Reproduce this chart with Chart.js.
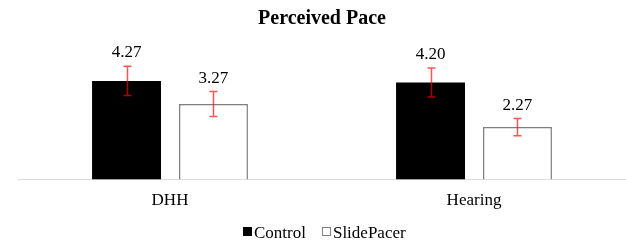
<!DOCTYPE html>
<html>
<head>
<meta charset="utf-8">
<script src="https://cdn.jsdelivr.net/npm/chart.js@4"></script>
<style>
  html, body { margin: 0; padding: 0; background: #fff; }
  #wrap { width: 626px; height: 244px; }
</style>
</head>
<body>
<div id="wrap"><canvas id="myChart" width="626" height="244"></canvas></div>
<script>
// chart data
var categories = ['DHH', 'Hearing'];
var seriesNames = ['Control', 'SlidePacer'];
var controlValues = [4.27, 4.20];
var slidePacerValues = [3.27, 2.27];
var controlErrors = [0.63, 0.63];
var slidePacerErrors = [0.54, 0.37];

var serif = "'Liberation Serif', 'Times New Roman', serif";

// draws the error bars, the value labels and the legend
var extras = {
    id: 'extras',
    afterDatasetsDraw: function(chart) {
        var ctx = chart.ctx;
        var y = chart.scales.y;
        var errs = [controlErrors, slidePacerErrors];
        ctx.save();
        chart.data.datasets.forEach(function(ds, di) {
            var meta = chart.getDatasetMeta(di);
            meta.data.forEach(function(bar, i) {
                var v = ds.data[i];
                var top = y.getPixelForValue(v + errs[di][i]);
                var bottom = y.getPixelForValue(v - errs[di][i]);
                var x = Math.round(bar.x) + 0.5;
                ctx.strokeStyle = 'rgba(255, 0, 0, 0.68)';
                ctx.lineWidth = 1.5;
                ctx.beginPath();
                ctx.moveTo(x, top);
                ctx.lineTo(x, bottom);
                ctx.moveTo(x - 4, top);
                ctx.lineTo(x + 4, top);
                ctx.moveTo(x - 4, bottom);
                ctx.lineTo(x + 4, bottom);
                ctx.stroke();

                ctx.fillStyle = '#000';
                ctx.font = '17px ' + serif;
                ctx.textAlign = 'center';
                ctx.textBaseline = 'alphabetic';
                ctx.fillText(v.toFixed(2), bar.x, top - 9);
            });
        });

        // legend
        ctx.font = '17px ' + serif;
        ctx.textBaseline = 'alphabetic';
        ctx.textAlign = 'left';
        var gap = 2, box = 9, spacing = 16;
        var widths = seriesNames.map(function(n) { return box + gap + ctx.measureText(n).width; });
        var total = widths[0] + widths[1] + spacing;
        var lx = Math.round(chart.width / 2 + 11 - total / 2);
        var ly = 238;
        chart.data.datasets.forEach(function(ds, di) {
            ctx.fillStyle = ds.backgroundColor;
            ctx.fillRect(lx, ly - 11, box, box);
            if (ds.borderWidth) {
                ctx.strokeStyle = ds.borderColor;
                ctx.lineWidth = 1;
                ctx.strokeRect(lx + 0.5, ly - 10.5, box - 1, box - 1);
            }
            ctx.fillStyle = '#000';
            ctx.fillText(seriesNames[di], lx + box + gap, ly);
            lx += widths[di] + spacing;
        });
        ctx.restore();
    }
};

var ctx = document.getElementById('myChart').getContext('2d');
var myChart = new Chart(ctx, {
    type: 'bar',
    data: {
        labels: categories,
        datasets: [{
            label: seriesNames[0],
            data: controlValues,
            backgroundColor: '#000000',
            borderWidth: 0,
            categoryPercentage: 0.572,
            barPercentage: 0.793
        }, {
            label: seriesNames[1],
            data: slidePacerValues,
            backgroundColor: '#ffffff',
            borderColor: '#7f7f7f',
            borderWidth: 1.5,
            categoryPercentage: 0.572,
            barPercentage: 0.793
        }]
    },
    options: {
        responsive: false,
        animation: false,
        layout: { padding: { left: 18, right: 0, top: 0, bottom: 22 } },
        plugins: {
            legend: { display: false },
            tooltip: { enabled: false },
            title: {
                display: true,
                text: 'Perceived Pace',
                color: '#000',
                font: { family: serif, size: 20, weight: 'bold' },
                padding: { top: 7, bottom: 33 }
            }
        },
        scales: {
            x: {
                grid: { display: false, drawTicks: false },
                border: { display: true, color: '#d9d9d9', width: 1 },
                ticks: { color: '#000', font: { family: serif, size: 17 }, padding: 11 }
            },
            y: {
                display: false,
                min: 0,
                max: 5
            }
        }
    },
    plugins: [extras]
});
</script>
</body>
</html>
